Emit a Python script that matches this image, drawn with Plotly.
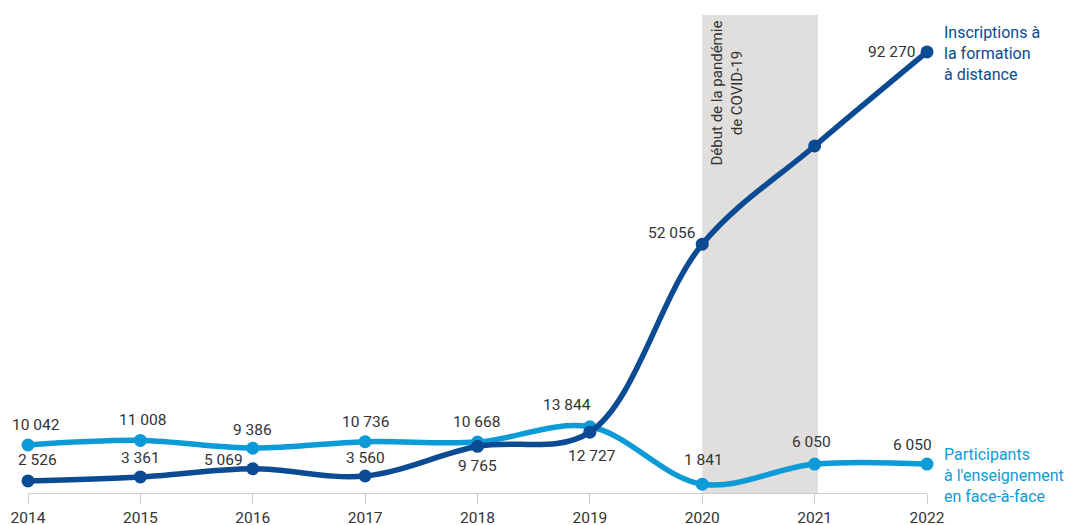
import plotly.graph_objects as go

years = [2014, 2015, 2016, 2017, 2018, 2019, 2020, 2021, 2022]
distance = [2526, 3361, 5069, 3560, 9765, 12727, 52056, 72600, 92270]
face = [10042, 11008, 9386, 10736, 10668, 13844, 1841, 6050, 6050]
distance_labels = ["2 526", "3 361", "5 069", "3 560", "9 765", "12 727", "52 056", "", "92 270"]
face_labels = ["10 042", "11 008", "9 386", "10 736", "10 668", "13 844", "1 841", "6 050", "6 050"]

DARK = "#0a4b94"
LIGHT = "#0d9bd8"
TXT = "#333333"
FONT = "Roboto, sans-serif"

# label offsets in pixels (dx right, dy up) relative to each point
dist_off = [(9, 21), (0, 19), (-29, 9), (0, 18), (0, -20), (2, -24), (-31, 11), (0, 0), (-36, 0)]
face_off = [(8, 20), (2, 20), (0, 18), (0, 20), (-1, 20), (-23, 22), (1, 24), (-3, 22), (-15, 19)]

fig = go.Figure()
fig.add_shape(type="rect", xref="x", yref="paper", x0=2020, x1=2021.03, y0=0, y1=1,
              fillcolor="#e0dfde", line=dict(width=0), layer="below")

fig.add_trace(go.Scatter(
    x=years, y=face, mode="lines+markers",
    line=dict(color=LIGHT, width=5.5, shape="spline", smoothing=1),
    marker=dict(size=13, color=LIGHT), cliponaxis=False, hoverinfo="skip"))
fig.add_trace(go.Scatter(
    x=years, y=distance, mode="lines+markers",
    line=dict(color=DARK, width=5.5, shape="spline", smoothing=1),
    marker=dict(size=13, color=DARK), cliponaxis=False, hoverinfo="skip"))

for vals, labels, offs in ((face, face_labels, face_off), (distance, distance_labels, dist_off)):
    for x, v, t, (dx, dy) in zip(years, vals, labels, offs):
        if not t:
            continue
        fig.add_annotation(x=x, y=v, xref="x", yref="y", text=t, showarrow=False,
                           xanchor="center", yanchor="middle", xshift=dx, yshift=dy,
                           font=dict(family=FONT, size=15.5, color=TXT))

fig.add_annotation(x=2022, y=distance[-1], xref="x", yref="y", xanchor="left", yanchor="middle",
                   xshift=15, yshift=-2, align="left", showarrow=False,
                   text="Inscriptions à<br>la formation<br>à distance",
                   font=dict(family=FONT, size=16, color=DARK))
fig.add_annotation(x=2022, y=face[-1], xref="x", yref="y", xanchor="left", yanchor="middle",
                   xshift=15, yshift=-11, align="left", showarrow=False,
                   text="Participants<br>à l'enseignement<br>en face-à-face",
                   font=dict(family=FONT, size=16, color=LIGHT))
fig.add_annotation(x=2020.22, y=1, xref="x", yref="paper", xanchor="center", yanchor="top",
                   yshift=-3, textangle=-90, align="center", showarrow=False,
                   text="Début de la pandémie<br>de COVID-19",
                   font=dict(family=FONT, size=15, color=TXT))

fig.update_layout(
    width=1072, height=525, margin=dict(l=20, r=153, t=7, b=40),
    paper_bgcolor="white", plot_bgcolor="white", showlegend=False,
    font=dict(family=FONT, size=16, color=TXT),
    xaxis=dict(range=[2014, 2022], tickvals=years, ticktext=[str(y) for y in years],
               automargin=False,
               showgrid=False, zeroline=False, showline=True, linecolor="#cccccc", linewidth=1,
               ticks="outside", ticklen=10, tickcolor="#cccccc",
               tickfont=dict(family=FONT, size=15.5, color=TXT)),
    yaxis=dict(range=[0, 100000], visible=False, showgrid=False, zeroline=False, automargin=False),
)

fig.write_html("out.html")
